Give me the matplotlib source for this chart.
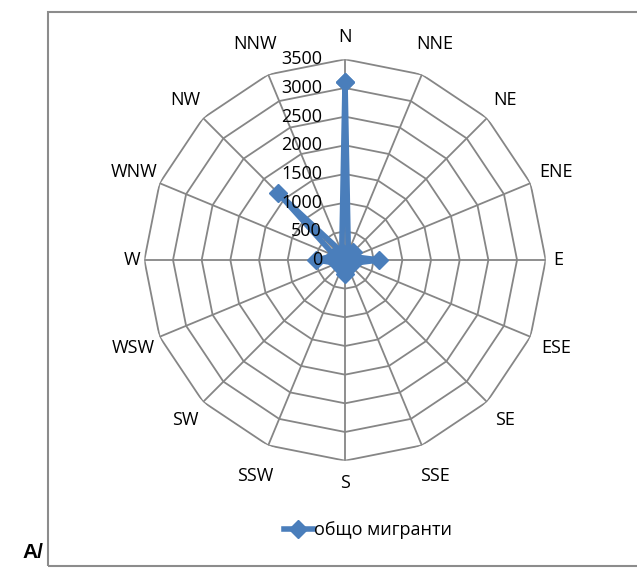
import numpy as np
import matplotlib.pyplot as plt
import matplotlib.transforms as mtransforms
from matplotlib.patches import Rectangle

plt.rcParams['font.family'] = ['Open Sans', 'DejaVu Sans']

# посоки и стойности (общо мигранти)
directions = ['N', 'NNE', 'NE', 'ENE', 'E', 'ESE', 'SE', 'SSE',
              'S', 'SSW', 'SW', 'WSW', 'W', 'WNW', 'NW', 'NNW']
migrants = [3100, 150, 200, 150, 600, 150, 100, 100,
            250, 150, 100, 150, 500, 200, 1650, 150]
rings = [0, 500, 1000, 1500, 2000, 2500, 3000, 3500]
series_name = 'общо мигранти'

blue = '#4A7EBB'
grid_col = '#868686'

fig = plt.figure(figsize=(6.37, 5.70), dpi=100)

# рамка на диаграмата
fig.patches.append(Rectangle((48 / 637, 1 - 566 / 570), 1.0, (566 - 12) / 570,
                             transform=fig.transFigure, fill=False,
                             edgecolor='#8c8c8c', linewidth=1.5))

ax = fig.add_axes([0.2266, 0.1918, 0.6301, 0.7042], projection='polar')
ax.set_theta_zero_location('N')
ax.set_theta_direction(-1)
ax.set_ylim(0, rings[-1])
ax.grid(False)
ax.spines['polar'].set_visible(False)
ax.set_xticks([])
ax.set_yticks([])
ax.patch.set_alpha(0)

theta = np.deg2rad(np.arange(len(directions)) * 360 / len(directions))
th_closed = np.append(theta, theta[0])

# многоъгълна мрежа
for r in rings[1:]:
    ax.plot(th_closed, [r] * len(th_closed), color=grid_col, lw=1.3, zorder=1)
for t in theta:
    ax.plot([t, t], [0, rings[-1]], color=grid_col, lw=1.3, zorder=1)

# серия
vals = np.append(migrants, migrants[0])
ax.plot(th_closed, vals, color=blue, lw=4, marker='D', markersize=9,
        markeredgecolor=blue, zorder=3, clip_on=False, label=series_name)

# етикети на посоките
for t, lab in zip(theta, directions):
    rpx = 213 + 6 * (len(lab) - 1) + 10 * abs(np.cos(t))
    ax.text(t, rings[-1] * rpx / 200.7, lab, ha='center', va='center',
            fontsize=13, color='black')

# етикети на скалата
off = mtransforms.ScaledTranslation(-23 / 100, 0, fig.dpi_scale_trans)
for r in rings:
    ax.text(0, r, str(r), transform=ax.transData + off, ha='right',
            va='center', fontsize=13, color='black', zorder=5)

fig.legend(loc='center', bbox_to_anchor=(368 / 637, 1 - 530 / 570),
           frameon=False, fontsize=13, handlelength=1.6,
           handletextpad=0.1)

fig.text(22 / 637, 1 - 553 / 570, 'A/', fontsize=15, fontweight='bold',
         family=['Liberation Sans', 'DejaVu Sans'], va='center', ha='left')

fig.savefig('out.png', dpi=100)
